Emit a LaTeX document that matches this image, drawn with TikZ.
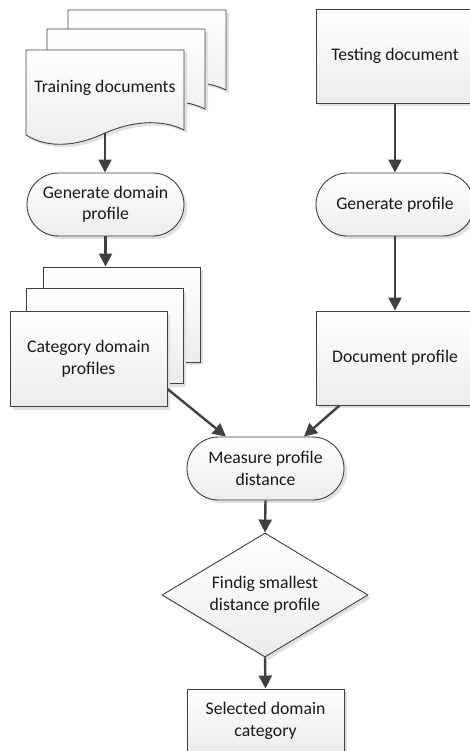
\documentclass[tikz,border=0pt]{standalone}
\usepackage{fontspec}
\setmainfont{Carlito}
\usetikzlibrary{arrows.meta,shapes.geometric,shadows,calc}
\definecolor{ln}{HTML}{404040}
\definecolor{fl}{HTML}{ECECEC}
\newcommand\docshape[2]{%
  \path[shapefill, shd, shift={(#1,#2)}] (26,50) -- (184,50) -- (184,130)
    .. controls (160,118) and (130,122) .. (105,133)
    .. controls (80,145) and (50,150) .. (26,135) -- cycle;}
\begin{document}
\begin{tikzpicture}[x=1pt,y=-1pt,
  shapefill/.style={top color=white, bottom color=fl, draw=ln, line width=0.9pt},
  shd/.style={drop shadow={shadow xshift=3pt,shadow yshift=-3pt,fill=black!12,opacity=1}},
  lbl/.style={font=\fontsize{17.7}{21.5}\selectfont, align=center, text=black!90},
  box/.style={shapefill, shd, rectangle, minimum width=158pt, minimum height=94pt, inner sep=0pt, lbl},
  term/.style={shapefill, shd, rectangle, rounded corners=31.5pt, minimum width=157pt, minimum height=63pt, inner sep=0pt, lbl},
  arr/.style={draw=ln, line width=2.4pt, -{Triangle[width=13pt,length=13pt]}}
]
\useasboundingbox (0,0) rectangle (470,751);
\clip (0,0) rectangle (470,751);
% training documents stack
\docshape{42}{-40}
\docshape{21}{-21}
\docshape{0}{0}
\node[lbl] (train) at (105,88) {Training documents};
\coordinate (trainbot) at (105,133);
% left column
\node[term] (gdp) at (105.5,204.5) {Generate domain\\profile};
\node[box, minimum width=157pt, minimum height=95pt] (cat3) at (121.5,314.5) {};
\node[box, minimum width=157pt, minimum height=95pt] (cat2) at (104.5,336) {};
\node[box, minimum width=157pt, minimum height=95pt] (cat) at (88.5,359) {Category domain\\profiles};
% right column
\node[box] (test) at (395,56) {Testing document};
\node[term, minimum width=158pt] (gp) at (395,204.5) {Generate profile};
\node[box] (docp) at (395,358) {Document profile};
% center column
\node[term] (mpd) at (265.5,468.5) {Measure profile\\distance};
\node[shapefill, shd, diamond, minimum width=206pt, minimum height=124pt, inner sep=0pt] (dec) at (265,595) {};
\node[lbl] (dect) at (dec.center) {Findig smallest\\distance profile};
\node[box, minimum width=157pt, minimum height=64pt] (sel) at (265.5,721) {Selected domain\\category};
% connectors
\draw[arr] (trainbot) -- (gdp.north -| trainbot);
\draw[arr] (gdp.south) -- (gdp.south |- cat3.north);
\draw[arr] (test.south) -- (gp.north);
\draw[arr] (gp.south) -- (docp.north);
\coordinate (catout) at ($(cat.south east)+(0,-18)$);
\draw[arr] (catout) -- ($(mpd.north)+(-39.5,0)$);
\draw[arr] ($(docp.south west)+(24,0)$) -- ($(mpd.north)+(38.5,0)$);
\draw[arr] (mpd.south) -- (dec.north);
\draw[arr] (dec.south) -- (sel.north);
\end{tikzpicture}
\end{document}
